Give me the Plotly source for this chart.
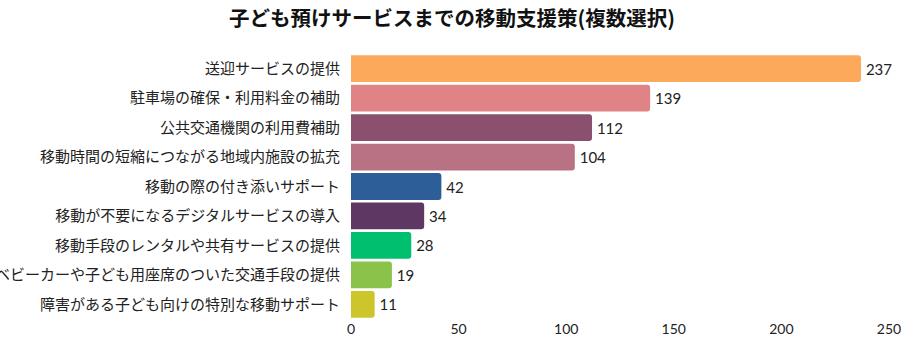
import plotly.graph_objects as go

categories = [
    "送迎サービスの提供",
    "駐車場の確保・利用料金の補助",
    "公共交通機関の利用費補助",
    "移動時間の短縮につながる地域内施設の拡充",
    "移動の際の付き添いサポート",
    "移動が不要になるデジタルサービスの導入",
    "移動手段のレンタルや共有サービスの提供",
    "ベビーカーや子ども用座席のついた交通手段の提供",
    "障害がある子ども向けの特別な移動サポート",
]
values = [237, 139, 112, 104, 42, 34, 28, 19, 11]
colors = ["#FDA95B", "#E08387", "#8A506E", "#B97284", "#2E5E98",
          "#5E3763", "#00BF6F", "#8BC24A", "#CDC52C"]
tick_vals = [0, 50, 100, 150, 200, 250]

fig = go.Figure(go.Bar(
    x=values, y=categories, orientation="h",
    marker=dict(color=colors, line=dict(width=0)),
    text=["\u2009" + str(v) for v in values], textposition="outside",
    textfont=dict(family="Lato, Inter, sans-serif", size=15, color="#222"),
    cliponaxis=False,
))
fig.update_layout(
    width=904, height=338,
    margin=dict(l=351, r=15, t=54, b=19, autoexpand=False),
    paper_bgcolor="white", plot_bgcolor="white",
    bargap=0.09, barcornerradius=3,
    title=dict(text="<b>子ども預けサービスまでの移動支援策(複数選択)</b>",
               x=0.5, xanchor="center", y=0.945, yanchor="middle",
               font=dict(family="Noto Sans CJK JP", size=20.5, color="#111")),
    font=dict(family="Noto Sans CJK JP", size=15, color="#222"),
    showlegend=False,
)
fig.update_xaxes(range=[0, 250], tickvals=tick_vals, showgrid=False, zeroline=False,
                 showline=False, ticks="", automargin=False, ticklabelstandoff=0,
                 tickfont=dict(family="Lato, Inter, sans-serif", size=14, color="#222"))
fig.update_yaxes(categoryorder="array", categoryarray=categories[::-1],
                 autorange=True, showgrid=False, ticks="", ticklabelstandoff=10,
                 automargin=False,
                 tickfont=dict(family="Noto Sans CJK JP", size=15, color="#222"))
fig.write_html("out.html")
